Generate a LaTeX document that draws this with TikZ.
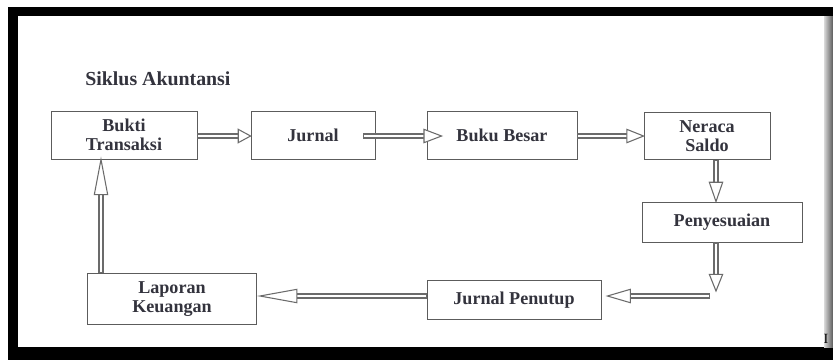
\documentclass[tikz,border=0pt]{standalone}
\usepackage{fontspec}
\setmainfont{Liberation Serif}
\usetikzlibrary{calc,decorations.markings}
\definecolor{boxgray}{rgb}{0.36, 0.36, 0.36}
\definecolor{arrowgray}{rgb}{0.42, 0.42, 0.42}
\definecolor{textgray}{rgb}{0.2, 0.2, 0.24}
\tikzstyle{stage} = [rectangle, draw=boxgray, line width=0.5pt, text=textgray, font=\fontsize{10.3}{11}\selectfont\bfseries, align=center, inner sep=0pt]
\tikzset{flow/.style={draw=arrowgray, line width=3.4pt, shorten >=#1-1pt,
    postaction={draw=white, line width=1.6pt, shorten <=0.6pt, shorten >=#1-1pt},
    postaction={decorate, decoration={markings, mark=at position 1 with {\draw[draw=arrowgray, fill=white, line width=0.6pt, shorten <=0pt, shorten >=0pt, line join=miter] (0pt,0pt) -- (-#1,3.8pt) -- (-#1,-3.8pt) -- cycle;}}}},
  flow/.default=9pt}

\begin{document}
\begin{tikzpicture}[x=0.02cm, y=-0.02cm]
\useasboundingbox (0,0) rectangle (833,360);

    % Frame
    \fill[black] (8,7) rectangle (833,360);
    \fill[white] (18,16) rectangle (824,347);
    \shade[left color=gray!30, right color=gray!70!black] (824,16) rectangle (833,347);

    \node (title) at (85,79) [anchor=west, inner sep=0pt, text=textgray, font=\fontsize{11.3}{13}\selectfont\bfseries] {Siklus Akuntansi};

    % Top row
    \node (bukti) at (124,135) [stage, minimum width=146*0.02cm, minimum height=48*0.02cm] {Bukti\\Transaksi};
    \node (jurnal) at (313,135) [stage, minimum width=124*0.02cm, minimum height=48*0.02cm] {Jurnal};
    \node (buku) at (502,135) [stage, minimum width=150*0.02cm, minimum height=48*0.02cm] {Buku Besar};
    \node (neraca) at (707,136) [stage, minimum width=126*0.02cm, minimum height=47*0.02cm] {Neraca\\Saldo};

    % Right side and bottom row
    \node (penyesuaian) at (722,222) [stage, minimum width=160*0.02cm, minimum height=40*0.02cm] {Penyesuaian};
    \node (penutup) at (514,300) [stage, minimum width=174*0.02cm, minimum height=39*0.02cm] {Jurnal Penutup};
    \node (laporan) at (172,299) [stage, minimum width=169*0.02cm, minimum height=51*0.02cm] {Laporan\\Keuangan};

    \coordinate (turn) at (716,296);
    \coordinate (rise) at (101,220);

    % Arrows
    \draw[flow=7pt] (bukti.east |- 0,136) -- (jurnal.west |- 0,136);
    \draw[flow=10pt] ([xshift=-0.24cm]jurnal.east |- 0,136) -- ([xshift=0.3cm]buku.west |- 0,136);
    \draw[flow=9.5pt] (buku.east |- 0,136) -- (neraca.west |- 0,136);
    \draw[flow=11pt] (neraca.south -| turn) -- (penyesuaian.north -| turn);
    \draw[flow=9.5pt] (penyesuaian.south -| turn) -- ([yshift=0.1cm]turn);
    \draw[flow=13pt] ([xshift=-0.12cm]turn) -- ([xshift=0.12cm]penutup.east |- turn);
    \draw[flow=21pt] (penutup.west |- turn) -- ([xshift=0.06cm]laporan.east |- turn);
    \draw[flow=20pt] (laporan.north -| rise) -- (bukti.south -| rise);

    \node (mark) at (826,339) [text=black, font=\fontsize{8}{8}\selectfont] {I};

\end{tikzpicture}
\end{document}
